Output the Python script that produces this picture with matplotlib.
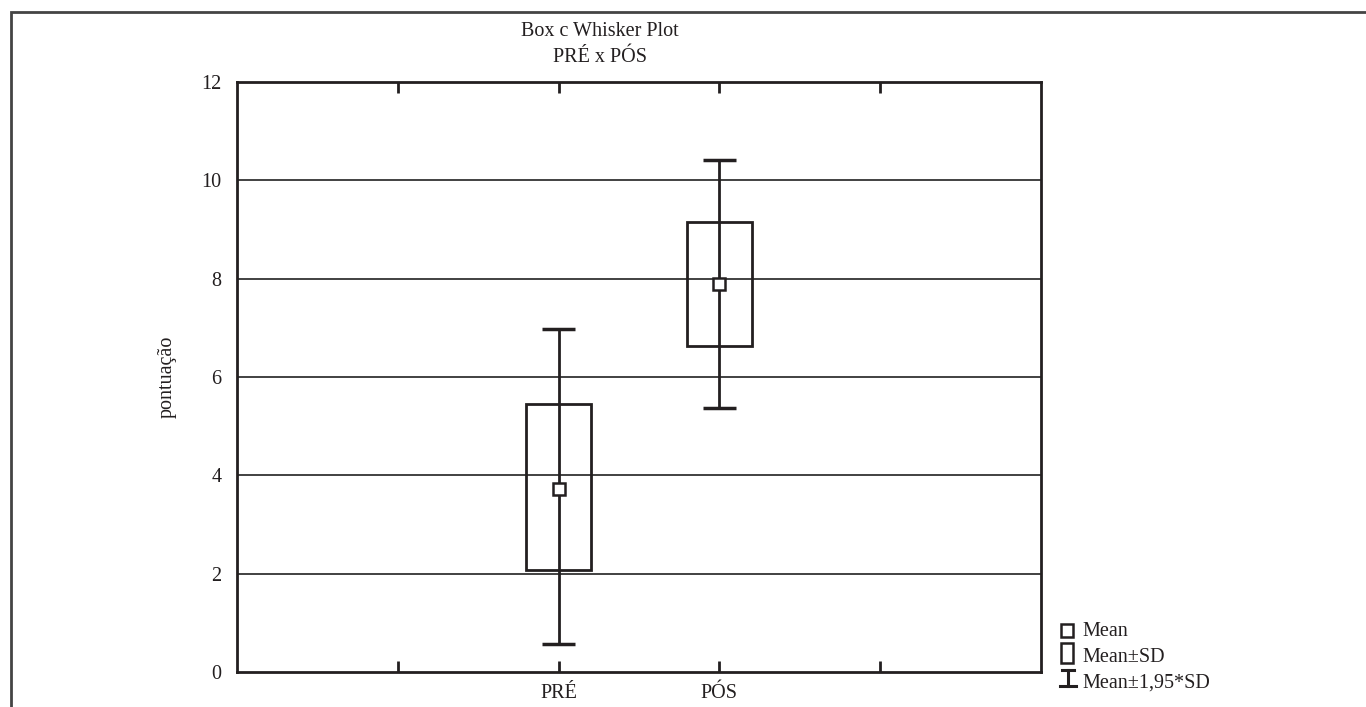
import numpy as np
import matplotlib
matplotlib.use('Agg')
from matplotlib import pyplot as plt
from matplotlib.lines import Line2D
from matplotlib.patches import Rectangle

plt.rcParams['font.family'] = ['Liberation Serif', 'DejaVu Serif']

# dados
grupos = ['PRÉ', 'PÓS']
posicoes = [2, 3]
media = [3.72, 7.89]
sd_baixo = [2.08, 6.64]
sd_alto = [5.45, 9.15]
wh_baixo = [0.57, 5.37]
wh_alto = [6.97, 10.41]

xticks = [1, 2, 3, 4]
xticklabels = ['', 'PRÉ', 'PÓS', '']
yticks = [0, 2, 4, 6, 8, 10, 12]
legenda = ['Mean', 'Mean±SD', 'Mean±1,95*SD']

W, H = 1366, 707
fig = plt.figure(figsize=(W/100, H/100), dpi=100)
ax = fig.add_axes([237/W, 1 - 672/H, (1041-237)/W, (672-82)/H])

def px(x, y):
    # pixel (a partir do topo) -> fracao da figura
    return x / W, 1 - y / H

cor = '#231f20'
fs = 14.5

# moldura da pagina
fig.patches.append(Rectangle((11/W, -0.1), 1.2, 1 - 12/H + 0.1,
                             transform=fig.transFigure, fill=False,
                             ec='#444444', lw=2))

for y in yticks[1:-1]:
    ax.axhline(y, color='#333333', lw=1.3, zorder=1)

for i in range(len(grupos)):
    x = posicoes[i]
    ax.vlines(x, wh_baixo[i], wh_alto[i], color=cor, lw=2, zorder=2)
    ax.hlines([wh_baixo[i], wh_alto[i]], x - 0.105, x + 0.105, color=cor, lw=2.5, zorder=2)
    ax.add_patch(Rectangle((x - 0.2, sd_baixo[i]), 0.4, sd_alto[i] - sd_baixo[i],
                           fill=False, ec=cor, lw=2, zorder=3))
    ax.plot(x, media[i], marker='s', ms=9, mfc='white', mec=cor, mew=1.8,
            ls='', zorder=4)

ax.set_xlim(0, 5)
ax.set_ylim(0, 12)
ax.set_xticks(xticks)
ax.set_xticklabels(xticklabels, fontsize=fs)
ax.set_yticks(yticks)
ax.set_yticklabels([str(v) for v in yticks], fontsize=fs)
ax.tick_params(axis='x', direction='in', top=True, length=8, width=2, pad=9, colors=cor)
ax.tick_params(axis='y', length=0, pad=11, colors=cor)
for s in ax.spines.values():
    s.set_linewidth(2)
    s.set_color(cor)
ax.set_ylabel('pontuação', fontsize=fs, color=cor)
ax.yaxis.set_label_coords((177 - 237) / (1041 - 237), 0.5)

fig.text(600/W, 1 - 32/H, 'Box c Whisker Plot', ha='center', va='center', fontsize=fs, color=cor)
fig.text(600/W, 1 - 58/H, 'PRÉ x PÓS', ha='center', va='center', fontsize=fs, color=cor)

# legenda desenhada a mao
x0, y0 = px(1061, 637)
x1, y1 = px(1073, 624)
fig.add_artist(Rectangle((x0, y0), x1 - x0, y1 - y0, transform=fig.transFigure,
                         fill=False, ec=cor, lw=1.8))
x0, y0 = px(1061, 663)
x1, y1 = px(1073, 643)
fig.add_artist(Rectangle((x0, y0), x1 - x0, y1 - y0, transform=fig.transFigure,
                         fill=False, ec=cor, lw=1.8))
for (xa, ya), (xb, yb) in [((1068, 670), (1068, 686)), ((1062, 670), (1074, 670)),
                           ((1060, 686), (1076, 686))]:
    a, b = px(xa, ya), px(xb, yb)
    fig.add_artist(Line2D([a[0], b[0]], [a[1], b[1]], transform=fig.transFigure,
                          color=cor, lw=2.2))
for texto, yb in zip(legenda, [636, 662, 688]):
    tx, ty = px(1082, yb)
    fig.text(tx, ty, texto, ha='left', va='baseline', fontsize=fs, color=cor)

fig.savefig('out.png', dpi=100)
